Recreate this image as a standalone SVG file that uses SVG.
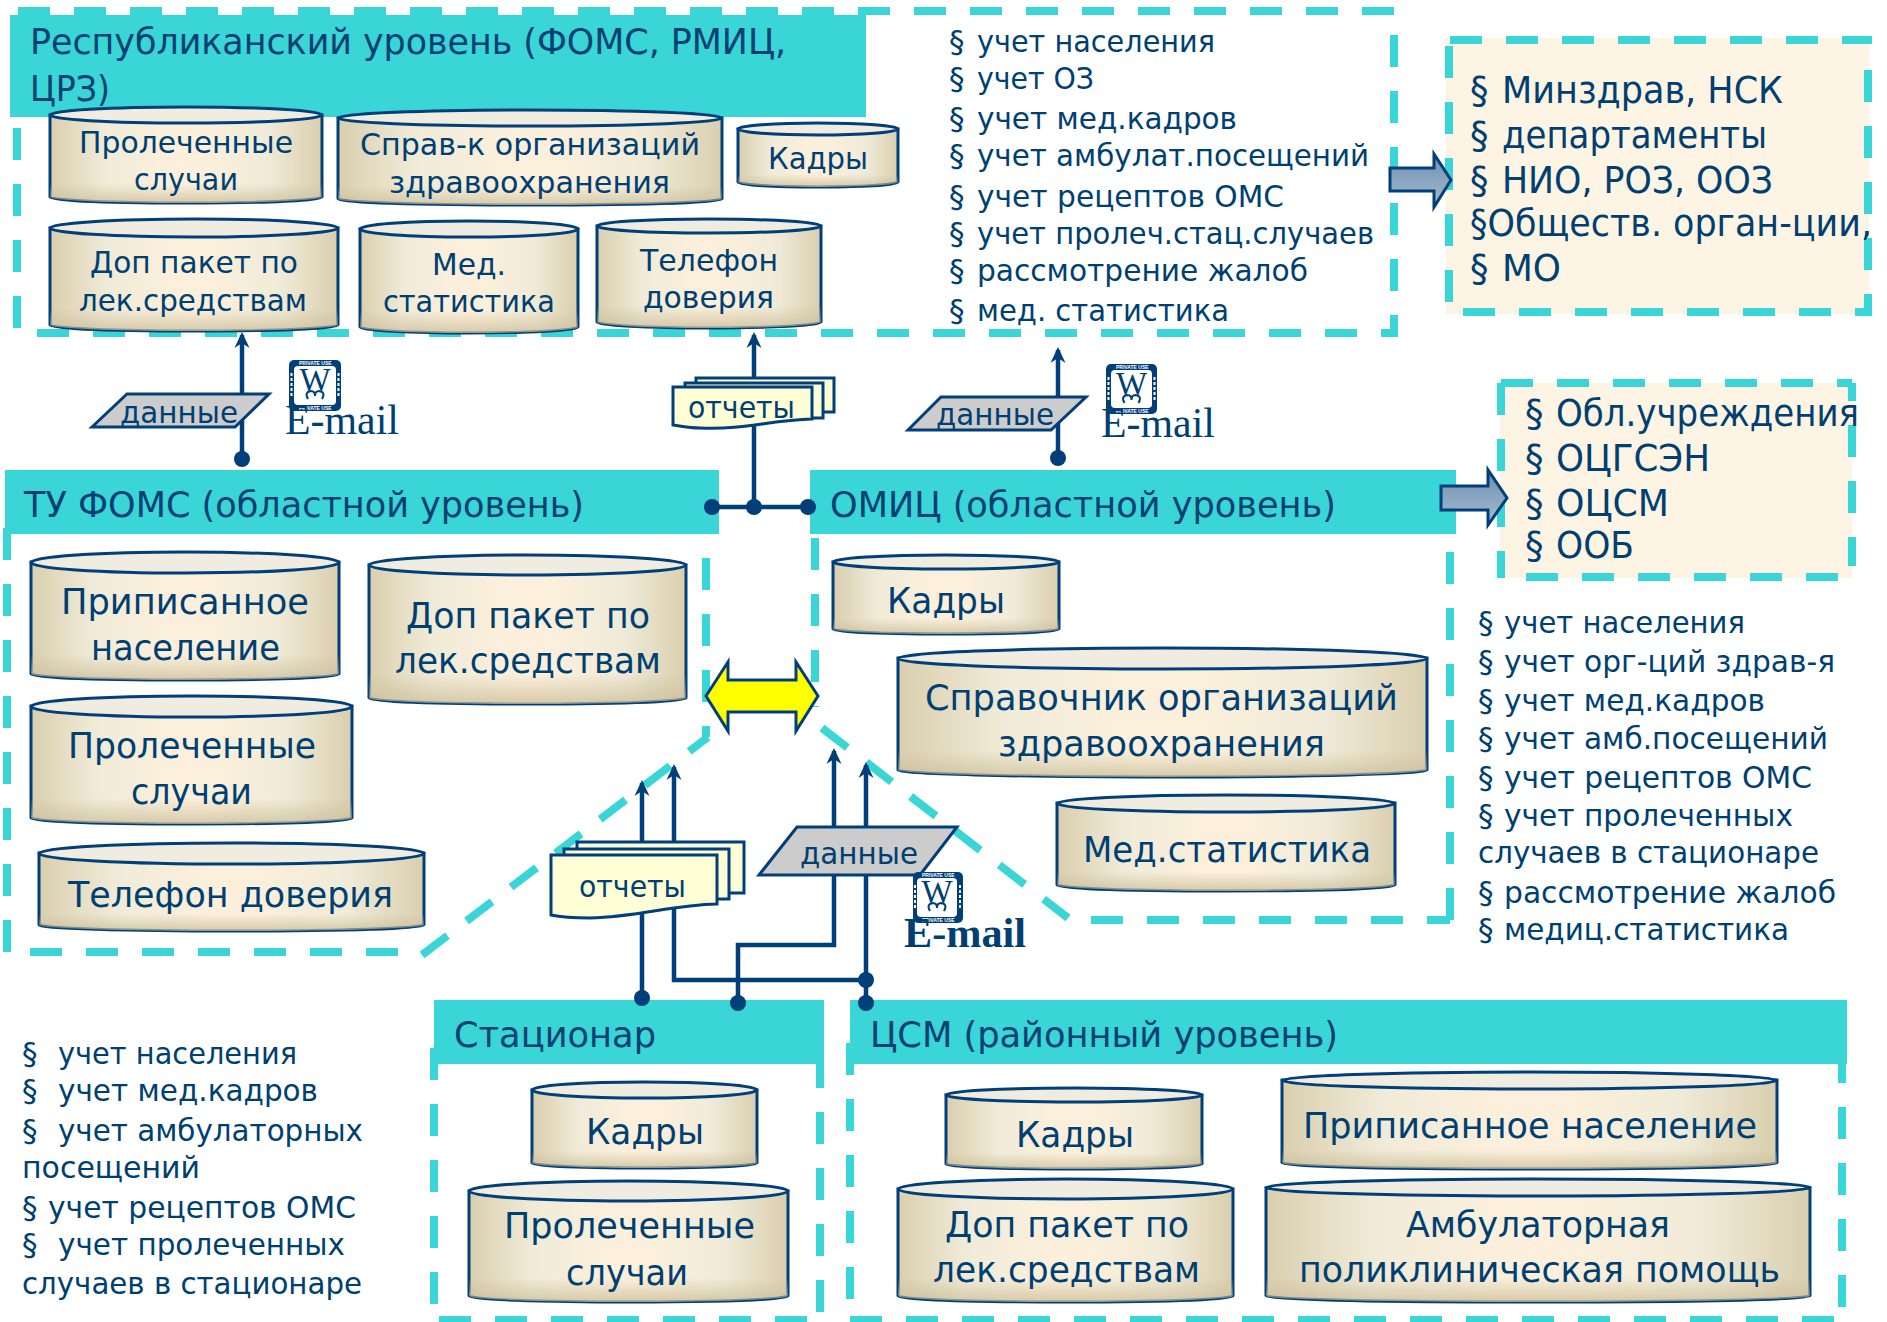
<svg xmlns="http://www.w3.org/2000/svg" width="1887" height="1322" viewBox="0 0 1887 1322">
<style>
text{font-family:"DejaVu Sans","Liberation Sans",sans-serif;fill:#003f72}
.f36{font-size:36px}.f31{font-size:31px}.f37{font-size:37px}
.dash{fill:none;stroke:#39d5d7;stroke-width:8;stroke-dasharray:32 24}
.band{fill:#39d5d7}
.beige{fill:#fdf4e3}
.cyl{fill:url(#cylG);stroke:#003f7a;stroke-width:3}
.shade{fill:url(#shadeG)}
.cap{fill:#f0ecdf;stroke:#003f7a;stroke-width:3}
.line{fill:none;stroke:#003f7a;stroke-width:4.5}
.dot{fill:#003f7a}
.data{fill:#cccccc;stroke:#003f7a;stroke-width:3}
.page{fill:#ffffd6;stroke:#003f7a;stroke-width:3}
.blk{fill:url(#blkG);stroke:#003f7a;stroke-width:3}
.yel{fill:#ffff00;stroke:#003f7a;stroke-width:3}
.mail{font-family:"Liberation Serif",serif;font-size:42px}
.stampO{fill:#003f7a}.stampI{fill:#fff}
.st{font-family:"Liberation Sans",sans-serif;font-size:5px;font-weight:bold;fill:#fff}
.side{fill:none;stroke:#fff;stroke-width:2;stroke-dasharray:3 2}
.wm{font-family:"Liberation Serif",serif;font-size:33px;text-anchor:middle}
.curl{fill:none;stroke:#003f7a;stroke-width:2}
</style>
<defs>
<linearGradient id="cylG" x1="0" y1="0" x2="1" y2="0"><stop offset="0" stop-color="#d9cfaf"/><stop offset=".08" stop-color="#e3dabf"/><stop offset=".2" stop-color="#f0ebd8"/><stop offset=".45" stop-color="#fcf0dc"/><stop offset=".55" stop-color="#fcf0dc"/><stop offset=".8" stop-color="#f0ebd8"/><stop offset=".92" stop-color="#e3dabf"/><stop offset="1" stop-color="#d9cfaf"/></linearGradient>
<linearGradient id="shadeG" x1="0" y1="0" x2="0" y2="1"><stop offset=".78" stop-color="#cbbd98" stop-opacity="0"/><stop offset="1" stop-color="#cbbd98" stop-opacity=".75"/></linearGradient>
<linearGradient id="blkG" x1="0" y1="0" x2="0" y2="1"><stop offset="0" stop-color="#6e8fb2"/><stop offset="1" stop-color="#a5bccd"/></linearGradient>
<marker id="ah" markerUnits="userSpaceOnUse" markerWidth="18" markerHeight="22" refX="13" refY="9" orient="auto"><path d="M16 9 L0 1.500 L5 9 L0 16.500 Z" fill="#003f7a"/></marker>
</defs>

<g id="frames">
<path class="beige" d="M1446 38H1869V314H1446Z"/>
<path class="beige" d="M1500 383H1852V578H1500Z"/>
<path class="dash" d="M18 11H1394"/>
<path class="dash" d="M1394 35V337"/>
<path class="dash" d="M37 333H1397"/>
<path class="dash" d="M17 328V128"/>
<path class="dash" d="M706 558V737"/>
<path class="dash" d="M422 955L708 737"/>
<path class="dash" d="M30 952H398"/>
<path class="dash" d="M7 528V952"/>
<path class="dash" d="M815 538V707"/>
<path class="dash" d="M822 728L1068 918"/>
<path class="dash" d="M1091 920H1450"/>
<path class="dash" d="M1450 552V920"/>
<path class="dash" d="M1450 40H1872"/>
<path class="dash" d="M1449 302V46"/>
<path class="dash" d="M1868 70V316"/>
<path class="dash" d="M1463 312H1868"/>
<path class="dash" d="M1501 383H1852"/>
<path class="dash" d="M1501 383V578"/>
<path class="dash" d="M1852 383V566" stroke-dashoffset="14"/>
<path class="dash" d="M1526 577H1838"/>
<path class="dash" d="M434 1048V1304"/>
<path class="dash" d="M820 1056V1312"/>
<path class="dash" d="M850 1043V1299"/>
<path class="dash" d="M1842 1051V1307"/>
<path class="dash" d="M439 1320H808"/>
<path class="dash" d="M850 1320H1835"/>
</g>

<g id="bands">
<rect class="band" x="10" y="15" width="856" height="102"/>
<rect class="band" x="5" y="470" width="714" height="64"/>
<rect class="band" x="810" y="470" width="646" height="64"/>
<rect class="band" x="434" y="1000" width="390" height="64"/>
<rect class="band" x="850" y="1000" width="997" height="64"/>
<text class="f36" x="30" y="54" textLength="756" lengthAdjust="spacingAndGlyphs">Республиканский уровень (ФОМС, РМИЦ,</text>
<text class="f36" x="30" y="101" textLength="80" lengthAdjust="spacingAndGlyphs">ЦРЗ)</text>
<text class="f36" x="24" y="517" textLength="560" lengthAdjust="spacingAndGlyphs">ТУ ФОМС (областной уровень)</text>
<text class="f36" x="830" y="517" textLength="506" lengthAdjust="spacingAndGlyphs">ОМИЦ (областной уровень)</text>
<text class="f36" x="454" y="1047" textLength="202" lengthAdjust="spacingAndGlyphs">Стационар</text>
<text class="f36" x="870" y="1047" textLength="468" lengthAdjust="spacingAndGlyphs">ЦСМ (районный уровень)</text>
</g>

<g id="connectors">
<path class="line" d="M242 459V335" marker-end="url(#ah)"/>
<path class="line" d="M754 507V335" marker-end="url(#ah)"/>
<path class="line" d="M712 507H808"/>
<path class="line" d="M1058 458V350" marker-end="url(#ah)"/>
<path class="line" d="M642 998V783" marker-end="url(#ah)"/>
<path class="line" d="M866 980H674V767" marker-end="url(#ah)"/>
<path class="line" d="M738 1003V945H834V751" marker-end="url(#ah)"/>
<path class="line" d="M866 1003V765" marker-end="url(#ah)"/>
<circle class="dot" cx="242" cy="459" r="8"/>
<circle class="dot" cx="712" cy="507" r="8"/>
<circle class="dot" cx="754" cy="507" r="8"/>
<circle class="dot" cx="808" cy="507" r="8"/>
<circle class="dot" cx="1058" cy="458" r="8"/>
<circle class="dot" cx="642" cy="998" r="8"/>
<circle class="dot" cx="738" cy="1003" r="8"/>
<circle class="dot" cx="866" cy="980" r="8"/>
<circle class="dot" cx="866" cy="1003" r="8"/>
</g>

<g id="arrow-minzdrav"><path class="blk" d="M1390 168H1434V154L1451 180L1434 207V191H1390Z"/></g>
<g id="arrow-obl"><path class="blk" d="M1441 486H1488V470L1507 498L1488 525V510H1441Z"/></g>
<g id="arrow-exchange"><path class="yel" d="M706 696L728 662V680H796V662L818 696L796 731V712H728V731Z"/></g>

<g id="rep-prol"><path class="cyl" d="M50 115V197A136 6 0 0 0 322 197V115Z"/><path class="shade" d="M50 115V197A136 6 0 0 0 322 197V115Z"/><ellipse class="cap" cx="186" cy="115" rx="136" ry="8"/>
<text class="f31" x="79" y="153" textLength="214" lengthAdjust="spacingAndGlyphs">Пролеченные</text><text class="f31" x="134" y="190" textLength="104" lengthAdjust="spacingAndGlyphs">случаи</text></g>
<g id="rep-sprav"><path class="cyl" d="M338 118V199A192 6 0 0 0 722 199V118Z"/><path class="shade" d="M338 118V199A192 6 0 0 0 722 199V118Z"/><ellipse class="cap" cx="530" cy="118" rx="192" ry="8"/>
<text class="f31" x="360" y="155" textLength="340" lengthAdjust="spacingAndGlyphs">Справ-к организаций</text><text class="f31" x="389" y="193" textLength="281" lengthAdjust="spacingAndGlyphs">здравоохранения</text></g>
<g id="rep-kadry"><path class="cyl" d="M738 129V182A80 5 0 0 0 898 182V129Z"/><path class="shade" d="M738 129V182A80 5 0 0 0 898 182V129Z"/><ellipse class="cap" cx="818" cy="129" rx="80" ry="6"/>
<text class="f31" x="768" y="169" textLength="100" lengthAdjust="spacingAndGlyphs">Кадры</text></g>
<g id="rep-dop"><path class="cyl" d="M50 228V325A144 6 0 0 0 338 325V228Z"/><path class="shade" d="M50 228V325A144 6 0 0 0 338 325V228Z"/><ellipse class="cap" cx="194" cy="228" rx="144" ry="9"/>
<text class="f31" x="90" y="273" textLength="208" lengthAdjust="spacingAndGlyphs">Доп пакет по</text><text class="f31" x="79" y="311" textLength="228" lengthAdjust="spacingAndGlyphs">лек.средствам</text></g>
<g id="rep-med"><path class="cyl" d="M360 229V327A109 6 0 0 0 578 327V229Z"/><path class="shade" d="M360 229V327A109 6 0 0 0 578 327V229Z"/><ellipse class="cap" cx="469" cy="229" rx="109" ry="8"/>
<text class="f31" x="432" y="275" textLength="74" lengthAdjust="spacingAndGlyphs">Мед.</text><text class="f31" x="383" y="312" textLength="172" lengthAdjust="spacingAndGlyphs">статистика</text></g>
<g id="rep-tel"><path class="cyl" d="M597 226V322A112 6 0 0 0 821 322V226Z"/><path class="shade" d="M597 226V322A112 6 0 0 0 821 322V226Z"/><ellipse class="cap" cx="709" cy="226" rx="112" ry="7"/>
<text class="f31" x="640" y="271" textLength="138" lengthAdjust="spacingAndGlyphs">Телефон</text><text class="f31" x="643" y="308" textLength="131" lengthAdjust="spacingAndGlyphs">доверия</text></g>

<g id="tu-pripis"><path class="cyl" d="M31 562V674A154 6 0 0 0 339 674V562Z"/><path class="shade" d="M31 562V674A154 6 0 0 0 339 674V562Z"/><ellipse class="cap" cx="185" cy="562.500" rx="154" ry="10.500"/>
<text class="f36" x="61" y="614" textLength="248" lengthAdjust="spacingAndGlyphs">Приписанное</text><text class="f36" x="91" y="660" textLength="189" lengthAdjust="spacingAndGlyphs">население</text></g>
<g id="tu-dop"><path class="cyl" d="M369 565V698A158.500 6 0 0 0 686 698V565Z"/><path class="shade" d="M369 565V698A158.500 6 0 0 0 686 698V565Z"/><ellipse class="cap" cx="527.500" cy="565" rx="158.500" ry="10"/>
<text class="f36" x="406" y="628" textLength="244" lengthAdjust="spacingAndGlyphs">Доп пакет по</text><text class="f36" x="395" y="673" textLength="266" lengthAdjust="spacingAndGlyphs">лек.средствам</text></g>
<g id="tu-prol"><path class="cyl" d="M31 706V818A160.500 6 0 0 0 352 818V706Z"/><path class="shade" d="M31 706V818A160.500 6 0 0 0 352 818V706Z"/><ellipse class="cap" cx="191.500" cy="706.500" rx="160.500" ry="10.500"/>
<text class="f36" x="68" y="758" textLength="248" lengthAdjust="spacingAndGlyphs">Пролеченные</text><text class="f36" x="131" y="804" textLength="121" lengthAdjust="spacingAndGlyphs">случаи</text></g>
<g id="tu-tel"><path class="cyl" d="M39 853V925A192.500 6 0 0 0 424 925V853Z"/><path class="shade" d="M39 853V925A192.500 6 0 0 0 424 925V853Z"/><ellipse class="cap" cx="231.500" cy="853.500" rx="192.500" ry="10.500"/>
<text class="f36" x="68" y="907" textLength="325" lengthAdjust="spacingAndGlyphs">Телефон доверия</text></g>

<g id="om-kadry"><path class="cyl" d="M833 562V629A113 5 0 0 0 1059 629V562Z"/><path class="shade" d="M833 562V629A113 5 0 0 0 1059 629V562Z"/><ellipse class="cap" cx="946" cy="562" rx="113" ry="7"/>
<text class="f36" x="887" y="613" textLength="118" lengthAdjust="spacingAndGlyphs">Кадры</text></g>
<g id="om-sprav"><path class="cyl" d="M898 658V770A264.500 7 0 0 0 1427 770V658Z"/><path class="shade" d="M898 658V770A264.500 7 0 0 0 1427 770V658Z"/><ellipse class="cap" cx="1162.500" cy="658.500" rx="264.500" ry="10.500"/>
<text class="f36" x="925" y="710" textLength="473" lengthAdjust="spacingAndGlyphs">Справочник организаций</text><text class="f36" x="998" y="756" textLength="327" lengthAdjust="spacingAndGlyphs">здравоохранения</text></g>
<g id="om-med"><path class="cyl" d="M1057 803V885A169 6 0 0 0 1395 885V803Z"/><path class="shade" d="M1057 803V885A169 6 0 0 0 1395 885V803Z"/><ellipse class="cap" cx="1226" cy="803.500" rx="169" ry="8.500"/>
<text class="f36" x="1083" y="862" textLength="288" lengthAdjust="spacingAndGlyphs">Мед.статистика</text></g>

<g id="st-kadry"><path class="cyl" d="M532 1090V1163A112.500 5 0 0 0 757 1163V1090Z"/><path class="shade" d="M532 1090V1163A112.500 5 0 0 0 757 1163V1090Z"/><ellipse class="cap" cx="644.500" cy="1090" rx="112.500" ry="8"/>
<text class="f36" x="586" y="1144" textLength="118" lengthAdjust="spacingAndGlyphs">Кадры</text></g>
<g id="st-prol"><path class="cyl" d="M469 1191V1296A159.500 6 0 0 0 788 1296V1191Z"/><path class="shade" d="M469 1191V1296A159.500 6 0 0 0 788 1296V1191Z"/><ellipse class="cap" cx="628.500" cy="1191" rx="159.500" ry="10"/>
<text class="f36" x="504" y="1238" textLength="251" lengthAdjust="spacingAndGlyphs">Пролеченные</text><text class="f36" x="566" y="1285" textLength="122" lengthAdjust="spacingAndGlyphs">случаи</text></g>

<g id="csm-kadry"><path class="cyl" d="M946 1095V1164A128 5 0 0 0 1202 1164V1095Z"/><path class="shade" d="M946 1095V1164A128 5 0 0 0 1202 1164V1095Z"/><ellipse class="cap" cx="1074" cy="1095" rx="128" ry="7"/>
<text class="f36" x="1016" y="1147" textLength="118" lengthAdjust="spacingAndGlyphs">Кадры</text></g>
<g id="csm-pripis"><path class="cyl" d="M1282 1080V1163A247.500 6 0 0 0 1777 1163V1080Z"/><path class="shade" d="M1282 1080V1163A247.500 6 0 0 0 1777 1163V1080Z"/><ellipse class="cap" cx="1529.500" cy="1080.500" rx="247.500" ry="8.500"/>
<text class="f36" x="1303" y="1138" textLength="454" lengthAdjust="spacingAndGlyphs">Приписанное население</text></g>
<g id="csm-dop"><path class="cyl" d="M898 1189V1296A167.500 6 0 0 0 1233 1296V1189Z"/><path class="shade" d="M898 1189V1296A167.500 6 0 0 0 1233 1296V1189Z"/><ellipse class="cap" cx="1065.500" cy="1189" rx="167.500" ry="10"/>
<text class="f36" x="945" y="1237" textLength="244" lengthAdjust="spacingAndGlyphs">Доп пакет по</text><text class="f36" x="933" y="1282" textLength="267" lengthAdjust="spacingAndGlyphs">лек.средствам</text></g>
<g id="csm-amb"><path class="cyl" d="M1266 1188V1296A272 6 0 0 0 1810 1296V1188Z"/><path class="shade" d="M1266 1188V1296A272 6 0 0 0 1810 1296V1188Z"/><ellipse class="cap" cx="1538" cy="1187.500" rx="272" ry="8.500"/>
<text class="f36" x="1406" y="1237" textLength="264" lengthAdjust="spacingAndGlyphs">Амбулаторная</text><text class="f36" x="1299" y="1282" textLength="481" lengthAdjust="spacingAndGlyphs">поликлиническая помощь</text></g>

<g id="data-1"><path class="data" d="M92 427L127 394H269L235 427Z"/><text class="f31" x="120" y="423" textLength="118" lengthAdjust="spacingAndGlyphs">данные</text></g>
<g id="data-2"><path class="data" d="M908 430L941 397H1086L1051 430Z"/><text class="f31" x="936" y="425" textLength="118" lengthAdjust="spacingAndGlyphs">данные</text></g>
<g id="data-3"><path class="data" d="M759 875L797 827H957L920 875Z"/><text class="f31" x="800" y="864" textLength="118" lengthAdjust="spacingAndGlyphs">данные</text></g>

<g id="reports-1">
<path class="page" d="M696 378H834V412H696Z"/><path class="page" d="M685 383H823V418H685Z"/>
<path class="page" d="M673 387H812V419C770 420 745 430 700 428C690 428 680 426 673 425Z"/>
<text class="f31" x="688" y="418" textLength="107" lengthAdjust="spacingAndGlyphs">отчеты</text></g>
<g id="reports-2">
<path class="page" d="M577 842H744V893H577Z"/><path class="page" d="M564 849H729V899H564Z"/>
<path class="page" d="M551 855H717V904C670 905 640 917 590 918C575 918 560 917 551 915Z"/>
<text class="f31" x="579" y="897" textLength="107" lengthAdjust="spacingAndGlyphs">отчеты</text></g>

<g id="email-1"><rect class="stampO" x="289" y="360" width="52" height="51" rx="5"/><rect class="stampI" x="294" y="366" width="42" height="39" rx="4"/>
<path class="side" d="M291.500 373V398M338.500 373V398"/>
<text class="st" x="299" y="364.500">PRIVATE USE</text><text class="st" x="299" y="410">PRIVATE USE</text><text class="wm" x="315" y="391">W</text>
<path class="curl" d="M308 399q-4-7 3-8q4 0 4 5q0-5 4-5q7 1 3 8"/>
<text class="mail" x="285" y="434" textLength="114" lengthAdjust="spacingAndGlyphs">E-mail</text></g>
<g id="email-2"><rect class="stampO" x="1106" y="364" width="51" height="50" rx="5"/><rect class="stampI" x="1111" y="370" width="41" height="38" rx="4"/>
<path class="side" d="M1108.500 377V401M1154.500 377V401"/>
<text class="st" x="1116" y="368.500">PRIVATE USE</text><text class="st" x="1116" y="413">PRIVATE USE</text><text class="wm" x="1131.500" y="395">W</text>
<path class="curl" d="M1124.500 403q-4-7 3-8q4 0 4 5q0-5 4-5q7 1 3 8"/>
<text class="mail" x="1101" y="437" textLength="114" lengthAdjust="spacingAndGlyphs">E-mail</text></g>
<g id="email-3"><rect class="stampO" x="913" y="872" width="50" height="51" rx="5"/><rect class="stampI" x="917" y="878" width="40" height="39" rx="4"/>
<path class="side" d="M915 885V910M960 885V910"/>
<text class="st" x="922" y="876.500">PRIVATE USE</text><text class="st" x="922" y="922">PRIVATE USE</text><text class="wm" x="937" y="903">W</text>
<path class="curl" d="M930 911q-4-7 3-8q4 0 4 5q0-5 4-5q7 1 3 8"/>
<text class="mail" x="904" y="947" textLength="122" lengthAdjust="spacingAndGlyphs" font-weight="bold">E-mail</text></g>

<g id="list-republic">
<text class="f31" x="949" y="52">§</text><text class="f31" x="977" y="52" textLength="238" lengthAdjust="spacingAndGlyphs">учет населения</text>
<text class="f31" x="949" y="89">§</text><text class="f31" x="977" y="89" textLength="117" lengthAdjust="spacingAndGlyphs">учет ОЗ</text>
<text class="f31" x="949" y="129">§</text><text class="f31" x="977" y="129" textLength="260" lengthAdjust="spacingAndGlyphs">учет мед.кадров</text>
<text class="f31" x="949" y="166">§</text><text class="f31" x="977" y="166" textLength="392" lengthAdjust="spacingAndGlyphs">учет амбулат.посещений</text>
<text class="f31" x="949" y="207">§</text><text class="f31" x="977" y="207" textLength="307" lengthAdjust="spacingAndGlyphs">учет рецептов ОМС</text>
<text class="f31" x="949" y="244">§</text><text class="f31" x="977" y="244" textLength="397" lengthAdjust="spacingAndGlyphs">учет пролеч.стац.случаев</text>
<text class="f31" x="949" y="281">§</text><text class="f31" x="977" y="281" textLength="331" lengthAdjust="spacingAndGlyphs">рассмотрение жалоб</text>
<text class="f31" x="949" y="321">§</text><text class="f31" x="977" y="321" textLength="252" lengthAdjust="spacingAndGlyphs">мед. статистика</text>
</g>
<g id="list-ministry">
<text class="f37" x="1470" y="103">§</text><text class="f37" x="1502" y="103" textLength="281" lengthAdjust="spacingAndGlyphs">Минздрав, НСК</text>
<text class="f37" x="1470" y="148">§</text><text class="f37" x="1502" y="148" textLength="265" lengthAdjust="spacingAndGlyphs">департаменты</text>
<text class="f37" x="1470" y="193">§</text><text class="f37" x="1502" y="193" textLength="271" lengthAdjust="spacingAndGlyphs">НИО, РОЗ, ООЗ</text>
<text class="f37" x="1470" y="236" textLength="402" lengthAdjust="spacingAndGlyphs">§Обществ. орган-ции,</text>
<text class="f37" x="1470" y="281">§</text><text class="f37" x="1502" y="281" textLength="59" lengthAdjust="spacingAndGlyphs">МО</text>
</g>
<g id="list-oblast">
<text class="f37" x="1525" y="426">§</text><text class="f37" x="1556" y="426" textLength="303" lengthAdjust="spacingAndGlyphs">Обл.учреждения</text>
<text class="f37" x="1525" y="471">§</text><text class="f37" x="1556" y="471" textLength="154" lengthAdjust="spacingAndGlyphs">ОЦГСЭН</text>
<text class="f37" x="1525" y="516">§</text><text class="f37" x="1556" y="516" textLength="113" lengthAdjust="spacingAndGlyphs">ОЦСМ</text>
<text class="f37" x="1525" y="558">§</text><text class="f37" x="1556" y="558" textLength="78" lengthAdjust="spacingAndGlyphs">ООБ</text>
</g>
<g id="list-omic">
<text class="f31" x="1478" y="633">§</text><text class="f31" x="1504" y="633" textLength="241" lengthAdjust="spacingAndGlyphs">учет населения</text>
<text class="f31" x="1478" y="672">§</text><text class="f31" x="1504" y="672" textLength="331" lengthAdjust="spacingAndGlyphs">учет орг-ций здрав-я</text>
<text class="f31" x="1478" y="711">§</text><text class="f31" x="1504" y="711" textLength="261" lengthAdjust="spacingAndGlyphs">учет мед.кадров</text>
<text class="f31" x="1478" y="749">§</text><text class="f31" x="1504" y="749" textLength="324" lengthAdjust="spacingAndGlyphs">учет амб.посещений</text>
<text class="f31" x="1478" y="788">§</text><text class="f31" x="1504" y="788" textLength="308" lengthAdjust="spacingAndGlyphs">учет рецептов ОМС</text>
<text class="f31" x="1478" y="826">§</text><text class="f31" x="1504" y="826" textLength="289" lengthAdjust="spacingAndGlyphs">учет пролеченных</text>
<text class="f31" x="1478" y="863" textLength="341" lengthAdjust="spacingAndGlyphs">случаев в стационаре</text>
<text class="f31" x="1478" y="903">§</text><text class="f31" x="1504" y="903" textLength="332" lengthAdjust="spacingAndGlyphs">рассмотрение жалоб</text>
<text class="f31" x="1478" y="940">§</text><text class="f31" x="1504" y="940" textLength="285" lengthAdjust="spacingAndGlyphs">медиц.статистика</text>
</g>
<g id="list-stac">
<text class="f31" x="22" y="1064">§</text><text class="f31" x="58" y="1064" textLength="239" lengthAdjust="spacingAndGlyphs">учет населения</text>
<text class="f31" x="22" y="1101">§</text><text class="f31" x="58" y="1101" textLength="260" lengthAdjust="spacingAndGlyphs">учет мед.кадров</text>
<text class="f31" x="22" y="1141">§</text><text class="f31" x="58" y="1141" textLength="305" lengthAdjust="spacingAndGlyphs">учет амбулаторных</text>
<text class="f31" x="22" y="1178" textLength="178" lengthAdjust="spacingAndGlyphs">посещений</text>
<text class="f31" x="22" y="1218">§</text><text class="f31" x="48" y="1218" textLength="308" lengthAdjust="spacingAndGlyphs">учет рецептов ОМС</text>
<text class="f31" x="22" y="1255">§</text><text class="f31" x="58" y="1255" textLength="287" lengthAdjust="spacingAndGlyphs">учет пролеченных</text>
<text class="f31" x="22" y="1294" textLength="340" lengthAdjust="spacingAndGlyphs">случаев в стационаре</text>
</g>
</svg>
